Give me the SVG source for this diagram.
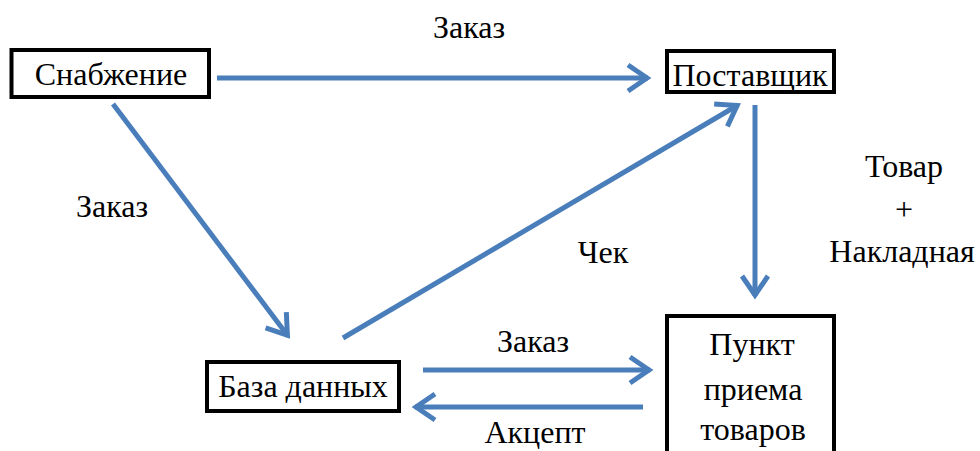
<svg xmlns="http://www.w3.org/2000/svg" width="980" height="451" viewBox="0 0 980 451">
<defs>
<marker id="ah" viewBox="-26 -18 32 36" refX="0" refY="0" markerWidth="32" markerHeight="36" orient="auto" markerUnits="userSpaceOnUse">
<path d="M-20,-13 L-1,0 L-20,13" fill="none" stroke="#4a7ebb" stroke-width="5"/>
</marker>
</defs>
<rect width="980" height="451" fill="#fff"/>
<g id="connectors" fill="none" stroke="#4a7ebb" stroke-width="5" marker-end="url(#ah)">
<line x1="217" y1="78" x2="648" y2="78"/>
<line x1="113" y1="104" x2="288" y2="336"/>
<line x1="343" y1="338" x2="738" y2="105"/>
<line x1="755" y1="105" x2="755" y2="296"/>
<line x1="423" y1="370" x2="650" y2="370"/>
<line x1="643" y1="407" x2="415" y2="407"/>
</g>
<g id="labels">
<text style="font-family:'Liberation Serif','Times New Roman',serif;font-size:32px;text-anchor:middle" x="469" y="38">Заказ</text>
<text style="font-family:'Liberation Serif','Times New Roman',serif;font-size:32px;text-anchor:middle" x="112" y="217">Заказ</text>
<text style="font-family:'Liberation Serif','Times New Roman',serif;font-size:32px;text-anchor:middle" x="603" y="263">Чек</text>
<text style="font-family:'Liberation Serif','Times New Roman',serif;font-size:32px;text-anchor:middle" x="904" y="177">Товар</text>
<text style="font-family:'Liberation Serif','Times New Roman',serif;font-size:32px;text-anchor:middle" x="904" y="220">+</text>
<text style="font-family:'Liberation Serif','Times New Roman',serif;font-size:32px;text-anchor:middle" x="902" y="262">Накладная</text>
<text style="font-family:'Liberation Serif','Times New Roman',serif;font-size:32px;text-anchor:middle" x="533" y="352">Заказ</text>
<text style="font-family:'Liberation Serif','Times New Roman',serif;font-size:32px;text-anchor:middle" x="535" y="443">Акцепт</text>
</g>
<g id="snabzhenie">
<rect x="11.5" y="50" width="197.5" height="47" fill="#fff" stroke="#000" stroke-width="4"/>
<text style="font-family:'Liberation Serif','Times New Roman',serif;font-size:32px;text-anchor:middle" x="111" y="85">Снабжение</text>
</g>
<g id="postavshchik">
<rect x="667" y="51" width="167" height="41" fill="#fff" stroke="#000" stroke-width="4"/>
<text style="font-family:'Liberation Serif','Times New Roman',serif;font-size:32px;text-anchor:middle" x="750" y="86">Поставщик</text>
</g>
<g id="baza">
<rect x="207" y="362" width="192" height="49" fill="#fff" stroke="#000" stroke-width="4"/>
<text style="font-family:'Liberation Serif','Times New Roman',serif;font-size:32px;text-anchor:middle" x="303" y="397">База данных</text>
</g>
<g id="punkt">
<rect x="667" y="316" width="167" height="150" fill="#fff" stroke="#000" stroke-width="4"/>
<text style="font-family:'Liberation Serif','Times New Roman',serif;font-size:32px;text-anchor:middle" x="752" y="355">Пункт</text>
<text style="font-family:'Liberation Serif','Times New Roman',serif;font-size:32px;text-anchor:middle" x="753" y="400">приема</text>
<text style="font-family:'Liberation Serif','Times New Roman',serif;font-size:32px;text-anchor:middle" x="753" y="440">товаров</text>
</g>
</svg>
